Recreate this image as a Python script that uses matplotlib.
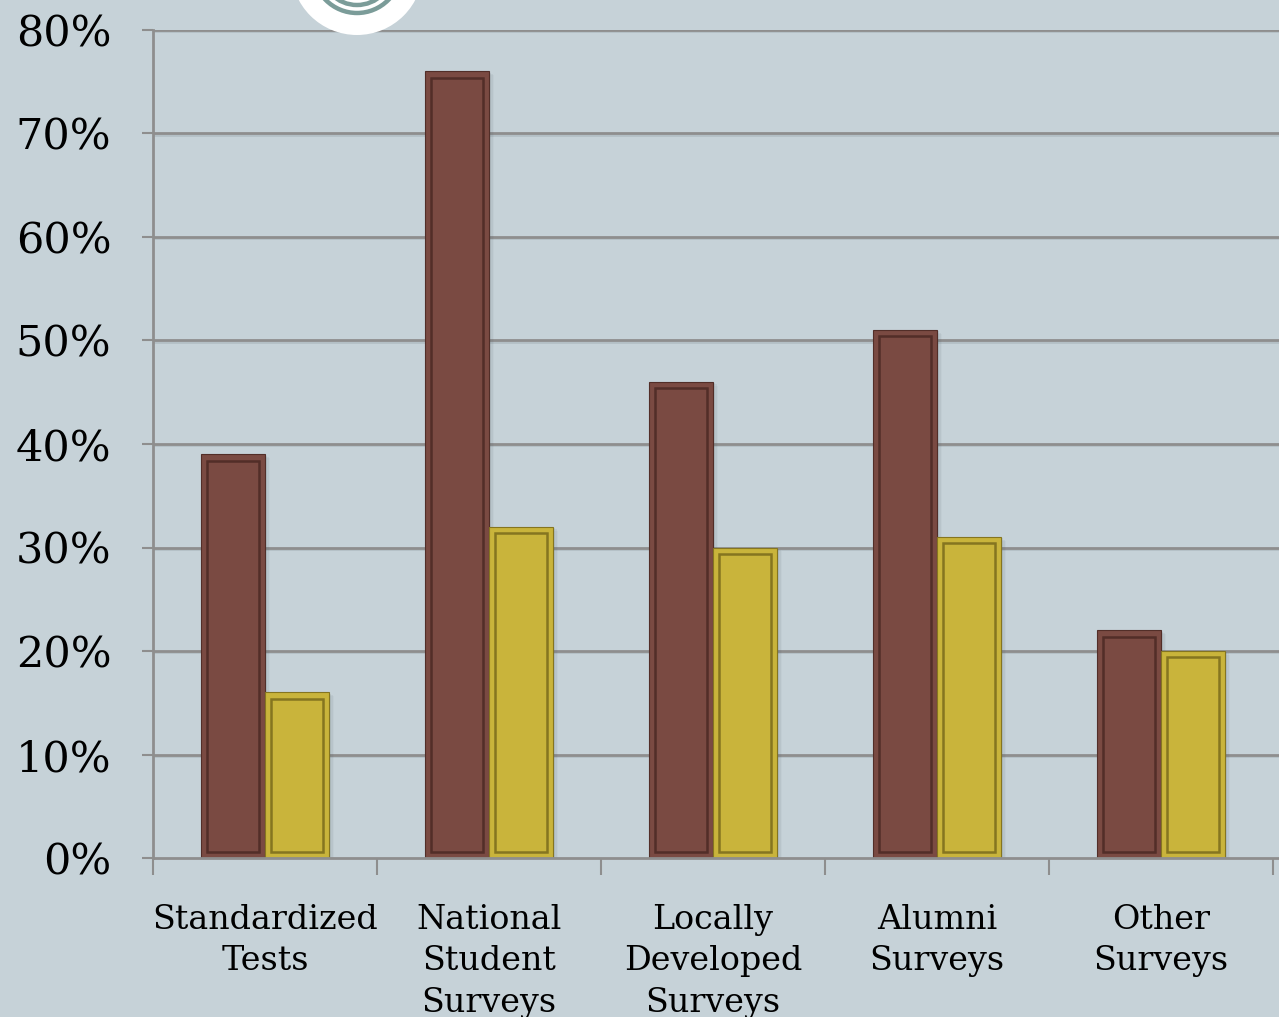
import matplotlib
matplotlib.use("Agg")
import matplotlib.pyplot as plt
from matplotlib.patches import Rectangle, Circle
import numpy as np

categories = ["Standardized\nTests", "National\nStudent\nSurveys", "Locally\nDeveloped\nSurveys",
              "Alumni\nSurveys", "Other\nSurveys"]
series_a = [39, 76, 46, 51, 22]
series_b = [16, 32, 30, 31, 20]
y_ticks = [0, 10, 20, 30, 40, 50, 60, 70, 80]

bg = "#c6d2d8"
maroon, maroon_dark = "#7a4a42", "#522e28"
gold, gold_dark = "#c9b43b", "#857520"
grid_col = "#8e8e8e"

plt.rcParams["font.family"] = ["DejaVu Serif"]

fig = plt.figure(figsize=(12.79, 10.17), dpi=100, facecolor=bg)
ax = fig.add_axes([153 / 1279, 1 - 858 / 1017, 1 - 153 / 1279, (858 - 30) / 1017])
ax.set_facecolor(bg)

x = np.arange(len(categories))
w = 0.286
ax.set_xlim(-0.5, 4.527)
ax.set_ylim(0, 80)

# horizontal grid with a faint shadow below each line
for v in y_ticks[1:]:
    ax.axhline(v - 0.12, color="#b3bfc5", lw=2, zorder=0.5)
    ax.axhline(v, color=grid_col, lw=2, zorder=1)


def bevel_bar(xc, h, face, dark):
    x0 = xc - w / 2
    # soft drop shadow
    for k, a in enumerate([0.10, 0.07, 0.04]):
        d = 0.006 * (k + 1)
        ax.add_patch(Rectangle((x0 + d, -0.3), w + 0.004, h + 0.3 - d * 20,
                               facecolor="#4a5a60", alpha=a, lw=0, zorder=2))
    ax.add_patch(Rectangle((x0, 0), w, h, facecolor=face, edgecolor=dark,
                           lw=0.8, zorder=3))
    ix, iy = 0.027, 0.6
    ax.add_patch(Rectangle((x0 + ix, iy), w - 2 * ix, h - 2 * iy, facecolor="none",
                           edgecolor=dark, lw=1.8, zorder=4))


for xi, a, b in zip(x, series_a, series_b):
    bevel_bar(xi - w / 2, a, maroon, maroon_dark)
    bevel_bar(xi + w / 2, b, gold, gold_dark)

for s in ["top", "right"]:
    ax.spines[s].set_visible(False)
for s in ["left", "bottom"]:
    ax.spines[s].set_color(grid_col)
    ax.spines[s].set_linewidth(2)
    ax.spines[s].set_zorder(5)

ax.set_yticks(y_ticks)
ax.set_yticklabels([f"{v}%" for v in y_ticks], fontsize=31)
ax.tick_params(axis="y", length=8, width=1.5, color=grid_col, pad=22)

ax.set_xticks(x)
ax.set_xticklabels(categories, fontsize=24, linespacing=1.38, va="top")
ax.tick_params(axis="x", which="major", length=0, pad=33)
ax.set_xticks(np.arange(-0.5, 5, 1.0), minor=True)
ax.tick_params(axis="x", which="minor", length=12, width=1.5, color=grid_col)

# round emblem peeking in at the top edge
logo_ax = fig.add_axes([0, 0, 1, 1], facecolor="none")
logo_ax.set_xlim(0, 1279)
logo_ax.set_ylim(1017, 0)
logo_ax.axis("off")
logo_ax.add_patch(Circle((357, -31), 66, facecolor="white", edgecolor="none"))
for r in (44, 36):
    logo_ax.add_patch(Circle((357, -31), r, facecolor="none", edgecolor="#7b9c99", lw=3.2))

fig.savefig("out.png", dpi=100, facecolor=bg)
